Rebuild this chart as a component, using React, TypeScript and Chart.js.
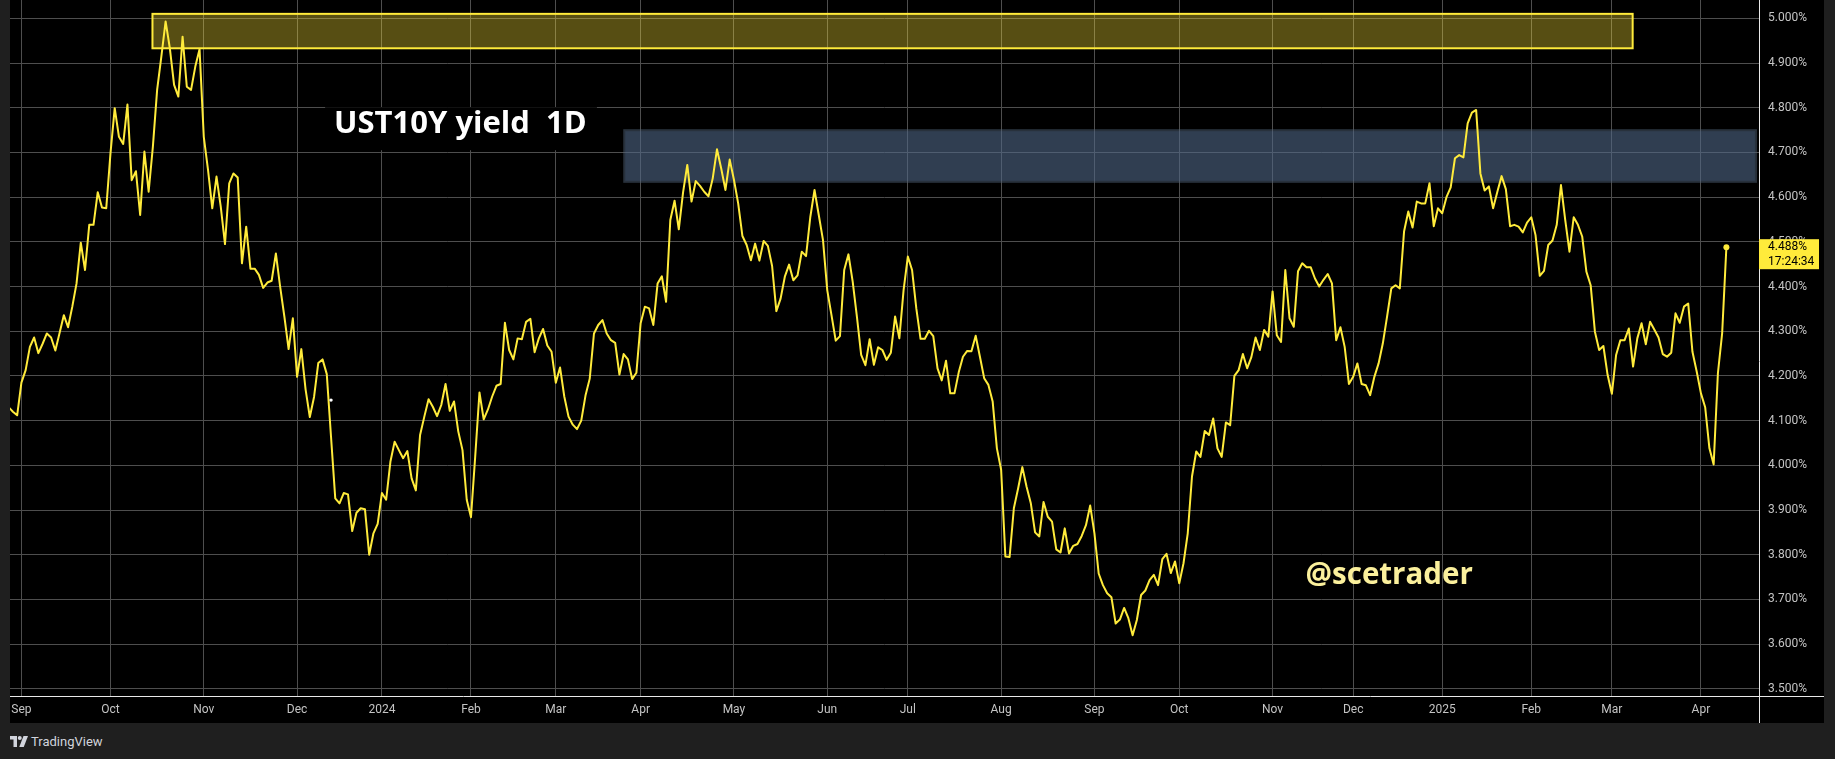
import React, { useEffect, useRef } from 'react';
import { Chart, registerables } from 'chart.js';

Chart.register(...registerables);

// ---- data (daily closes, bar index 0 = 1 Sep 2023, trading days only) ----
const firstBar = -3;

const yields2023 = [
  4.130, 4.120, 4.112, 4.185, 4.213, 4.265, 4.286, 4.251, 4.272, 4.295,
  4.286, 4.257, 4.296, 4.336, 4.309, 4.355, 4.407, 4.498, 4.437, 4.538,
  4.538, 4.611, 4.577, 4.575, 4.698, 4.799, 4.735, 4.719, 4.807, 4.638,
  4.658, 4.560, 4.702, 4.612, 4.713, 4.840, 4.915, 4.993, 4.933, 4.851,
  4.825, 4.959, 4.847, 4.840, 4.892, 4.931, 4.735, 4.661, 4.575, 4.646,
  4.579, 4.495, 4.631, 4.653, 4.644, 4.452, 4.534, 4.440, 4.440, 4.426,
  4.397, 4.409, 4.413, 4.474, 4.400, 4.333, 4.260, 4.329, 4.198, 4.260,
  4.170, 4.108, 4.153, 4.229, 4.237, 4.204, 4.064, 3.926, 3.915, 3.938,
  3.935, 3.853, 3.894, 3.904, 3.902, 3.800, 3.848, 3.869,
];

const yields2024 = [
  3.938, 3.923, 4.008, 4.053, 4.034, 4.016, 4.032, 3.971, 3.944, 4.068,
  4.109, 4.148, 4.131, 4.110, 4.135, 4.182, 4.122, 4.143, 4.076, 4.034,
  3.923, 3.884, 4.020, 4.163, 4.103, 4.125, 4.154, 4.178, 4.182, 4.319,
  4.258, 4.237, 4.284, 4.282, 4.321, 4.328, 4.253, 4.284, 4.305, 4.268,
  4.254, 4.185, 4.219, 4.154, 4.109, 4.091, 4.081, 4.100, 4.156, 4.194,
  4.295, 4.314, 4.325, 4.295, 4.280, 4.274, 4.203, 4.249, 4.237, 4.193,
  4.207, 4.318, 4.355, 4.351, 4.314, 4.407, 4.423, 4.366, 4.549, 4.592,
  4.528, 4.610, 4.672, 4.590, 4.636, 4.625, 4.612, 4.602, 4.642, 4.707,
  4.664, 4.616, 4.684, 4.639, 4.586, 4.513, 4.493, 4.459, 4.496, 4.458,
  4.502, 4.491, 4.446, 4.345, 4.373, 4.422, 4.449, 4.414, 4.425, 4.478,
  4.468, 4.555, 4.616, 4.560, 4.504, 4.392, 4.336, 4.279, 4.289, 4.437,
  4.472, 4.411, 4.332, 4.247, 4.224, 4.282, 4.225, 4.264, 4.258, 4.236,
  4.252, 4.333, 4.284, 4.392, 4.467, 4.437, 4.351, 4.283, 4.283, 4.301,
  4.289, 4.217, 4.190, 4.234, 4.161, 4.161, 4.208, 4.243, 4.256, 4.255,
  4.290, 4.243, 4.195, 4.180, 4.143, 4.038, 3.990, 3.796, 3.795, 3.904,
  3.948, 3.996, 3.952, 3.915, 3.850, 3.841, 3.918, 3.885, 3.874, 3.812,
  3.805, 3.859, 3.803, 3.820, 3.824, 3.842, 3.866, 3.910, 3.848, 3.758,
  3.732, 3.714, 3.705, 3.646, 3.655, 3.681, 3.658, 3.620, 3.654, 3.710,
  3.720, 3.743, 3.755, 3.732, 3.790, 3.802, 3.759, 3.785, 3.736, 3.781,
  3.848, 3.975, 4.031, 4.019, 4.077, 4.068, 4.105, 4.038, 4.019, 4.096,
  4.090, 4.200, 4.213, 4.249, 4.217, 4.242, 4.286, 4.258, 4.303, 4.288,
  4.389, 4.291, 4.276, 4.437, 4.329, 4.310, 4.434, 4.452, 4.443, 4.443,
  4.418, 4.400, 4.415, 4.428, 4.407, 4.280, 4.309, 4.265, 4.182, 4.198,
  4.228, 4.182, 4.179, 4.157, 4.198, 4.228, 4.273, 4.333, 4.396, 4.403,
  4.396, 4.523, 4.568, 4.532, 4.590, 4.586, 4.586, 4.631, 4.535, 4.575,
];

const yields2025 = [
  4.564, 4.600, 4.622, 4.687, 4.694, 4.689, 4.765, 4.789, 4.795, 4.653,
  4.615, 4.624, 4.575, 4.612, 4.647, 4.618, 4.535, 4.538, 4.534, 4.521,
  4.543, 4.555, 4.515, 4.424, 4.435, 4.493, 4.503, 4.538, 4.627, 4.549,
  4.478, 4.555, 4.538, 4.512, 4.433, 4.403, 4.299, 4.258, 4.267, 4.202,
  4.160, 4.247, 4.280, 4.280, 4.306, 4.221, 4.284, 4.318, 4.271, 4.321,
  4.304, 4.286, 4.249, 4.243, 4.252, 4.340, 4.319, 4.355, 4.362, 4.254,
  4.210, 4.161, 4.130, 4.038, 4.002, 4.206, 4.295, 4.488,
];

const monthLabels = ['Sep', 'Oct', 'Nov', 'Dec', '2024', 'Feb', 'Mar', 'Apr', 'May', 'Jun', 'Jul', 'Aug', 'Sep', 'Oct', 'Nov', 'Dec', '2025', 'Feb', 'Mar', 'Apr'];
const monthStartBar = [0, 21, 43, 65, 85, 106, 126, 146, 168, 190, 209, 231, 253, 273, 295, 314, 335, 356, 375, 396];
const yTicks = [3.5, 3.6, 3.7, 3.8, 3.9, 4.0, 4.1, 4.2, 4.3, 4.4, 4.5, 4.6, 4.7, 4.8, 4.9, 5.0];

const viewBars = [-2.69, 409.69];
const viewYield = [3.484, 5.041];

const lastTimeLabel = '17:24:34';
const markerDot = { bar: 73, value: 4.146 };

// drawings (in data units)
const highZone = { from: 30.9, to: 379.9, low: 4.933, high: 5.010 };
const resistanceZone = { from: 141.9, to: 409.2, low: 4.632, high: 4.752 };
const titleText = 'UST10Y yield  1D';
const titleBox = { from: 71.6, to: 135.7, low: 4.7016, high: 4.800 };
const titleAnchor = { bar: 103.5, value: 4.7427 };
const handleText = '@scetrader';
const handleAnchor = { bar: 322.5, value: 3.734 };

const LINE = '#ffeb3b';
const GRID = '#4e4e4e';
const AXIS_TEXT = '#c4c4c4';
const TICK_FONT = { family: 'Roboto, "Liberation Sans", sans-serif', size: 12 };

const drawingsPlugin = {
  id: 'drawings',
  beforeDatasetsDraw(chart: any) {
    const { ctx, chartArea, scales } = chart;
    const x = scales.x;
    const y = scales.y;
    ctx.save();
    ctx.beginPath();
    ctx.rect(chartArea.left, chartArea.top, chartArea.right - chartArea.left, chartArea.bottom - chartArea.top);
    ctx.clip();

    // blue resistance zone
    {
      const x0 = x.getPixelForValue(resistanceZone.from);
      const x1 = x.getPixelForValue(resistanceZone.to);
      const y0 = y.getPixelForValue(resistanceZone.high);
      const y1 = y.getPixelForValue(resistanceZone.low);
      ctx.fillStyle = 'rgba(80,98,120,0.5)';
      ctx.fillRect(x0, y0, x1 - x0, y1 - y0);
      ctx.fillStyle = 'rgba(80,114,165,0.2)';
      ctx.fillRect(x0 + 2, y0 + 2, x1 - x0 - 4, y1 - y0 - 4);
    }
    // yellow high zone
    {
      const x0 = x.getPixelForValue(highZone.from);
      const x1 = x.getPixelForValue(highZone.to);
      const y0 = y.getPixelForValue(highZone.high);
      const y1 = y.getPixelForValue(highZone.low);
      ctx.fillStyle = 'rgba(255,228,55,0.34)';
      ctx.fillRect(x0, y0, x1 - x0, y1 - y0);
      ctx.strokeStyle = LINE;
      ctx.lineWidth = 2;
      ctx.strokeRect(x0, y0, x1 - x0, y1 - y0);
    }
    // title label
    {
      const x0 = x.getPixelForValue(titleBox.from);
      const x1 = x.getPixelForValue(titleBox.to);
      const y0 = y.getPixelForValue(titleBox.high);
      const y1 = y.getPixelForValue(titleBox.low);
      ctx.fillStyle = '#000000';
      ctx.fillRect(x0, y0 - 0.5, x1 - x0, y1 - y0 - 1);
      ctx.fillStyle = '#ffffff';
      ctx.font = '700 31px "Open Sans", sans-serif';
      ctx.textAlign = 'center';
      ctx.textBaseline = 'alphabetic';
      ctx.fillText(titleText, x.getPixelForValue(titleAnchor.bar), y.getPixelForValue(titleAnchor.value));
    }
    // handle watermark
    {
      ctx.fillStyle = '#fbf09c';
      ctx.font = '700 29.5px "Open Sans", sans-serif';
      ctx.textAlign = 'center';
      ctx.textBaseline = 'alphabetic';
      ctx.fillText(handleText, x.getPixelForValue(handleAnchor.bar), y.getPixelForValue(handleAnchor.value));
    }
    ctx.restore();
  },
  afterDraw(chart: any) {
    const { ctx, chartArea, scales, width, height } = chart;
    const y = scales.y;
    ctx.save();
    ctx.strokeStyle = '#e8e8e8';
    ctx.lineWidth = 1;
    ctx.beginPath();
    ctx.moveTo(0, Math.round(chartArea.bottom) + 0.5);
    ctx.lineTo(width, Math.round(chartArea.bottom) + 0.5);
    ctx.moveTo(Math.round(chartArea.right) + 0.5, 0);
    ctx.lineTo(Math.round(chartArea.right) + 0.5, height);
    ctx.stroke();

    // last price label
    const lastVal = yields2025[yields2025.length - 1];
    const py = y.getPixelForValue(lastVal);
    const bx = Math.round(chartArea.right);
    ctx.fillStyle = LINE;
    ctx.fillRect(bx, py - 8, 60, 30);
    ctx.fillStyle = '#000000';
    ctx.font = '12px Roboto, "Liberation Sans", sans-serif';
    ctx.textAlign = 'left';
    ctx.textBaseline = 'middle';
    ctx.fillText(lastVal.toFixed(3) + '%', bx + 9, py);
    ctx.fillText(lastTimeLabel, bx + 9, py + 14.5);
    ctx.restore();
  },
};

export default function App() {
  const ref = useRef<HTMLCanvasElement>(null);

  useEffect(() => {
    document.body.style.margin = '0';
    document.body.style.background = '#1f1f1f';
    const series = [...yields2023, ...yields2024, ...yields2025].map((v, i) => ({ x: firstBar + i, y: v }));
    const last = series[series.length - 1];

    const chart = new Chart(ref.current as HTMLCanvasElement, {
      type: 'line',
      data: {
        datasets: [
          {
            type: 'scatter',
            data: [last],
            pointRadius: 3,
            pointBackgroundColor: LINE,
            pointBorderWidth: 0,
            borderWidth: 0,
          } as any,
          {
            type: 'scatter',
            data: [{ x: markerDot.bar, y: markerDot.value }],
            pointRadius: 1.7,
            pointBackgroundColor: '#ffffff',
            pointBorderWidth: 0,
            borderWidth: 0,
          } as any,
          {
            type: 'line',
            data: series,
            borderColor: LINE,
            borderWidth: 2,
            pointRadius: 0,
            tension: 0,
            fill: false,
            borderJoinStyle: 'round',
          } as any,
        ],
      },
      options: {
        animation: false,
        responsive: false,
        devicePixelRatio: 1,
        layout: { padding: 0, autoPadding: false },
        events: [],
        plugins: { legend: { display: false }, tooltip: { enabled: false } },
        scales: {
          x: {
            type: 'linear',
            position: 'bottom',
            min: viewBars[0],
            max: viewBars[1],
            afterBuildTicks: (s: any) => {
              s.ticks = monthStartBar.map((v) => ({ value: v }));
            },
            afterFit: (s: any) => {
              s.height = 27;
              s.paddingLeft = 0;
              s.paddingRight = 0;
            },
            ticks: {
              autoSkip: false,
              maxRotation: 0,
              padding: 7,
              color: AXIS_TEXT,
              font: TICK_FONT,
              callback: (v: any) => {
                const i = monthStartBar.indexOf(Number(v));
                return i >= 0 ? monthLabels[i] : '';
              },
            },
            grid: { color: GRID, drawTicks: false, lineWidth: 1 },
            border: { display: false },
          },
          y: {
            type: 'linear',
            position: 'right',
            min: viewYield[0],
            max: viewYield[1],
            afterBuildTicks: (s: any) => {
              s.ticks = yTicks.map((v) => ({ value: v }));
            },
            afterFit: (s: any) => {
              s.width = 65;
              s.paddingTop = 0;
              s.paddingBottom = 0;
            },
            ticks: {
              padding: 9,
              color: AXIS_TEXT,
              font: TICK_FONT,
              callback: (v: any) => Number(v).toFixed(3) + '%',
            },
            grid: { color: GRID, drawTicks: false, lineWidth: 1 },
            border: { display: false },
          },
        },
      },
      plugins: [drawingsPlugin],
    } as any);

    return () => chart.destroy();
  }, []);

  return (
    <div style={{ position: 'relative', width: 1835, height: 759, background: '#1f1f1f', overflow: 'hidden' }}>
      <div style={{ position: 'absolute', left: 10, top: 0, width: 1814, height: 723, background: '#000000' }}>
        <canvas ref={ref} width={1814} height={723} style={{ display: 'block', width: 1814, height: 723 }} />
      </div>
      <div
        style={{
          position: 'absolute',
          left: 10,
          top: 734,
          height: 14,
          display: 'flex',
          alignItems: 'center',
          gap: 3,
          color: '#d1d4dc',
          fontFamily: 'Roboto, "Liberation Sans", sans-serif',
          fontSize: 13,
        }}
      >
        <svg width="18" height="11" viewBox="0 0 36 22" style={{ display: 'block' }}>
          <path d="M0 0h14v22H7V7H0z" fill="#d1d4dc" />
          <circle cx="19.5" cy="4" r="4" fill="#d1d4dc" />
          <path d="M27 0h9l-8.5 22h-9z" fill="#d1d4dc" />
        </svg>
        <span>TradingView</span>
      </div>
    </div>
  );
}
